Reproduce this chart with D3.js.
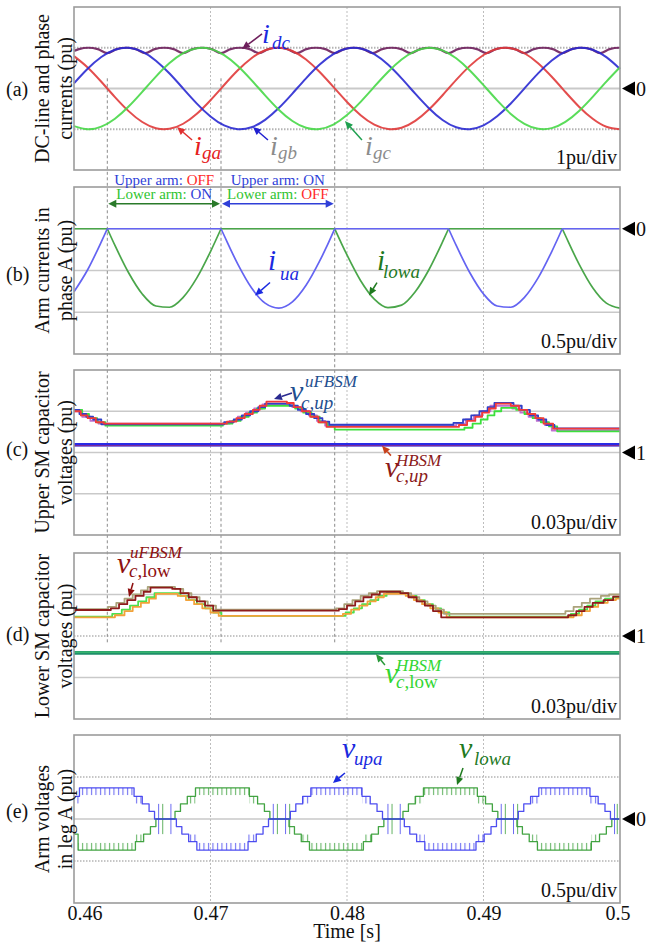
<!DOCTYPE html>
<html>
<head>
<meta charset="utf-8">
<script src="https://cdn.jsdelivr.net/npm/d3@7"></script>
<style>
  body { margin: 0; background: #fff; }
  svg { display: block; }
  text { font-family: "Liberation Serif", "Times New Roman", serif; }
</style>
</head>
<body>
<svg id="chart" width="646" height="946"></svg>
<script>
// ---------------- data ----------------
const xTickValues = [0.46, 0.47, 0.48, 0.49, 0.5];
const xTickLabels = ["0.46", "0.47", "0.48", "0.49", "0.5"];
const panelTitles = [
  ["DC-line and phase", "currents (pu)"],
  ["Arm currents in", "phase A (pu)"],
  ["Upper SM capacitor", "voltages (pu)"],
  ["Lower SM capacitor", "voltages (pu)"],
  ["Arm voltages", "in leg A (pu)"]
];
const panelTags = ["(a)", "(b)", "(c)", "(d)", "(e)"];
const divLabels = ["1pu/div", "0.5pu/div", "0.03pu/div", "0.03pu/div", "0.5pu/div"];
const refValues = [0, 0, 1, 1, 0];
const gridValues = [[-1, 0, 1], [-1, -0.5, 0], [0.97, 1, 1.03], [0.97, 1, 1.03], [-0.5, 0, 0.5]];
const panelDomains = [[-2, 2], [-1.5, 0.5], [0.94, 1.06], [0.94, 1.06], [-1, 1]];

// instants where the phase-A current crosses zero (arm hand-over)
const armSwitchTimes = [0.46244, 0.47077, 0.47910];

// (a) grid phase currents, pu
const phaseTime = [0.460,0.461,0.462,0.463,0.464,0.465,0.466,0.467,0.468,0.469,0.470,0.471,0.472,0.473,0.474,0.475,0.476,0.477,0.478,0.479,0.480,0.481,0.482,0.483,0.484,0.485,0.486,0.487,0.488,0.489,0.490,0.491,0.492,0.493,0.494,0.495,0.496,0.497,0.498,0.499,0.500];
const iga = [0.795,0.517,0.165,-0.210,-0.555,-0.822,-0.974,-0.989,-0.865,-0.620,-0.287,0.085,0.446,0.744,0.938,1.000,0.921,0.713,0.405,0.040,-0.331,-0.655,-0.887,-0.995,-0.963,-0.795,-0.517,-0.165,0.210,0.555,0.822,0.974,0.989,0.865,0.620,0.287,-0.085,-0.446,-0.744,-0.938,-1.000];
const igb = [0.127,0.483,0.772,0.952,0.998,0.904,0.683,0.367,-0.002,-0.370,-0.686,-0.906,-0.998,-0.951,-0.769,-0.480,-0.124,0.250,0.589,0.845,0.983,0.982,0.843,0.587,0.247,-0.127,-0.483,-0.772,-0.952,-0.998,-0.904,-0.683,-0.367,0.002,0.370,0.686,0.906,0.998,0.951,0.769,0.480];
const igc = [-0.923,-1.000,-0.937,-0.742,-0.443,-0.082,0.291,0.623,0.867,0.990,0.973,0.820,0.552,0.206,-0.168,-0.520,-0.798,-0.964,-0.994,-0.885,-0.652,-0.327,0.044,0.405,0.711,0.918,1.000,0.937,0.742,0.443,0.082,-0.291,-0.623,-0.867,-0.990,-0.973,-0.820,-0.552,-0.206,0.168,0.520];

// (a) dc-line current, pu (six-pulse ripple)
const idcTime = [0.46000,0.46036,0.46105,0.46174,0.46244,0.46313,0.46383,0.46452,0.46522,0.46591,0.46661,0.46730,0.46799,0.46869,0.46938,0.47008,0.47077,0.47147,0.47216,0.47286,0.47355,0.47424,0.47494,0.47563,0.47633,0.47702,0.47772,0.47841,0.47910,0.47980,0.48049,0.48119,0.48188,0.48258,0.48327,0.48397,0.48466,0.48535,0.48605,0.48674,0.48744,0.48813,0.48883,0.48952,0.49022,0.49091,0.49160,0.49230,0.49299,0.49369,0.49438,0.49508,0.49577,0.49647,0.49716,0.49786,0.49855,0.49924,0.49994,0.50000];
const idc = [0.923,0.966,1.000,0.966,0.866,0.966,1.000,0.966,0.866,0.966,1.000,0.966,0.866,0.966,1.000,0.966,0.866,0.966,1.000,0.966,0.866,0.966,1.000,0.966,0.866,0.966,1.000,0.966,0.866,0.966,1.000,0.966,0.866,0.966,1.000,0.966,0.866,0.966,1.000,0.966,0.866,0.966,1.000,0.966,0.866,0.966,1.000,0.966,0.866,0.966,1.000,0.966,0.866,0.966,1.000,0.966,0.866,0.966,1.000,1.000];

// (b) arm currents in phase A, pu
const armTime = [0.460,0.461,0.462,0.46244,0.463,0.464,0.465,0.466,0.467,0.468,0.469,0.470,0.47077,0.471,0.472,0.473,0.474,0.475,0.476,0.477,0.478,0.479,0.47910,0.480,0.481,0.482,0.483,0.484,0.485,0.486,0.487,0.48744,0.488,0.489,0.490,0.491,0.492,0.493,0.494,0.495,0.49577,0.496,0.497,0.498,0.499,0.500];
const iua = [-0.755,-0.491,-0.157,0, 0,0,0,0,0,0,0,0, 0, -0.081,-0.424,-0.707,-0.891,-0.950,-0.875,-0.677,-0.385,-0.038, 0, 0,0,0,0,0,0,0,0, 0, -0.200,-0.527,-0.781,-0.925,-0.940,-0.822,-0.589,-0.273, 0, 0,0,0,0,0];
const ilowa = [0,0,0,0, -0.200,-0.527,-0.781,-0.925,-0.940,-0.822,-0.589,-0.273, 0, 0,0,0,0,0,0,0,0,0, 0, -0.314,-0.622,-0.843,-0.945,-0.915,-0.755,-0.491,-0.157, 0, 0,0,0,0,0,0,0,0, 0, -0.081,-0.424,-0.707,-0.891,-0.950];

// (c) upper-arm SM capacitor voltages [time s, pu], stepwise
const capUpRed = [[0.4600,1.030],[0.4605,1.027],[0.4610,1.025],[0.4616,1.022],[0.4622,1.021],[0.4712,1.0225],[0.4719,1.025],[0.4725,1.028],[0.4731,1.031],[0.4736,1.034],[0.4741,1.037],[0.4756,1.036],[0.4761,1.033],[0.4767,1.030],[0.4773,1.026],[0.4779,1.022],[0.4785,1.0186],[0.4882,1.020],[0.4888,1.023],[0.4894,1.026],[0.4899,1.029],[0.4904,1.032],[0.4909,1.0355],[0.4920,1.034],[0.4926,1.031],[0.4932,1.028],[0.4938,1.025],[0.4944,1.021],[0.4951,1.0173],[0.5000,1.0173]];
const capUpBlue = [[0.4600,1.031],[0.4604,1.028],[0.4609,1.026],[0.4614,1.024],[0.4620,1.0205],[0.4710,1.022],[0.4717,1.024],[0.4723,1.027],[0.4729,1.030],[0.4735,1.033],[0.4740,1.0355],[0.4758,1.034],[0.4764,1.031],[0.4770,1.028],[0.4776,1.025],[0.4782,1.0225],[0.4787,1.0202],[0.4878,1.0215],[0.4885,1.024],[0.4891,1.027],[0.4897,1.030],[0.4903,1.033],[0.4908,1.036],[0.4922,1.034],[0.4928,1.031],[0.4934,1.027],[0.4940,1.024],[0.4946,1.020],[0.4952,1.0175],[0.5000,1.0175]];
const capUpGreen = [[0.4600,1.031],[0.4606,1.028],[0.4611,1.025],[0.4617,1.022],[0.4623,1.0195],[0.4709,1.021],[0.4716,1.023],[0.4722,1.026],[0.4728,1.029],[0.4734,1.032],[0.4740,1.034],[0.4762,1.032],[0.4768,1.029],[0.4774,1.026],[0.4780,1.022],[0.4786,1.019],[0.4791,1.0166],[0.4886,1.018],[0.4892,1.021],[0.4898,1.024],[0.4903,1.027],[0.4908,1.030],[0.4913,1.0325],[0.4924,1.031],[0.4930,1.028],[0.4936,1.025],[0.4942,1.022],[0.4948,1.019],[0.4954,1.0154],[0.5000,1.0154]];
const capUpPurple = [[0.4600,1.030],[0.4606,1.026],[0.4612,1.023],[0.4618,1.021],[0.4714,1.023],[0.4720,1.026],[0.4726,1.029],[0.4732,1.032],[0.4738,1.035],[0.4760,1.033],[0.4766,1.030],[0.4772,1.027],[0.4778,1.023],[0.4784,1.0195],[0.4880,1.021],[0.4887,1.024],[0.4893,1.027],[0.4899,1.030],[0.4905,1.034],[0.4921,1.032],[0.4927,1.029],[0.4933,1.026],[0.4939,1.023],[0.4945,1.020],[0.4950,1.016],[0.5000,1.016]];
const capUpHalfBridge = [[0.46,1.0056],[0.50,1.0056]];
const capUpHalfBridge2 = [[0.46,1.0050],[0.50,1.0050]];

// (d) lower-arm SM capacitor voltages [time s, pu], stepwise
const capLowDarkRed = [[0.4600,1.0188],[0.4627,1.020],[0.4633,1.023],[0.4639,1.026],[0.4645,1.029],[0.4651,1.032],[0.4656,1.035],[0.4672,1.034],[0.4678,1.031],[0.4684,1.028],[0.4690,1.025],[0.4696,1.022],[0.4702,1.0183],[0.4794,1.0195],[0.4800,1.022],[0.4806,1.025],[0.4812,1.028],[0.4818,1.030],[0.4824,1.032],[0.4839,1.031],[0.4845,1.028],[0.4851,1.025],[0.4857,1.022],[0.4863,1.018],[0.4869,1.0135],[0.4962,1.015],[0.4968,1.018],[0.4974,1.021],[0.4980,1.024],[0.4988,1.026],[0.4995,1.0285],[0.5000,1.0285]];
const capLowOlive = [[0.4600,1.0195],[0.4625,1.021],[0.4631,1.024],[0.4637,1.027],[0.4643,1.030],[0.4649,1.033],[0.4654,1.0355],[0.4674,1.034],[0.4680,1.031],[0.4686,1.028],[0.4692,1.025],[0.4698,1.022],[0.4704,1.019],[0.4792,1.020],[0.4798,1.023],[0.4804,1.026],[0.4810,1.029],[0.4816,1.031],[0.4822,1.0325],[0.4841,1.031],[0.4847,1.028],[0.4853,1.025],[0.4859,1.022],[0.4865,1.019],[0.4871,1.0160],[0.4960,1.018],[0.4966,1.021],[0.4972,1.024],[0.4978,1.027],[0.4986,1.029],[0.4992,1.030],[0.5000,1.030]];
const capLowOrange = [[0.4600,1.0135],[0.4630,1.015],[0.4637,1.018],[0.4643,1.021],[0.4649,1.024],[0.4655,1.027],[0.4660,1.0305],[0.4676,1.029],[0.4682,1.026],[0.4688,1.023],[0.4694,1.020],[0.4700,1.017],[0.4706,1.0145],[0.4797,1.016],[0.4803,1.019],[0.4809,1.022],[0.4815,1.025],[0.4821,1.028],[0.4827,1.0305],[0.4843,1.029],[0.4849,1.026],[0.4855,1.023],[0.4861,1.020],[0.4867,1.017],[0.4873,1.0135],[0.4966,1.015],[0.4972,1.018],[0.4978,1.021],[0.4984,1.024],[0.4991,1.026],[0.4997,1.027],[0.5000,1.027]];
const capLowGreen = [[0.4600,1.0140],[0.4628,1.016],[0.4635,1.019],[0.4641,1.022],[0.4647,1.025],[0.4653,1.028],[0.4659,1.031],[0.4678,1.029],[0.4684,1.026],[0.4690,1.023],[0.4696,1.020],[0.4702,1.017],[0.4708,1.0145],[0.4799,1.017],[0.4805,1.020],[0.4811,1.023],[0.4817,1.026],[0.4823,1.029],[0.4829,1.031],[0.4845,1.029],[0.4851,1.026],[0.4857,1.023],[0.4863,1.020],[0.4869,1.017],[0.4875,1.0140],[0.4964,1.016],[0.4970,1.019],[0.4976,1.022],[0.4982,1.025],[0.4989,1.027],[0.4995,1.028],[0.5000,1.028]];
const capLowHalfBridge = [[0.46,0.9878],[0.50,0.9878]];
const capLowHalfBridge2 = [[0.46,0.9884],[0.50,0.9884]];

// (e) arm voltages in leg A [time s, pu], multilevel staircase
const vUpa = [[0.4600,0.27],[0.4604,0.37],[0.4644,0.27],[0.4650,0.18],[0.4655,0.09],[0.4659,0],[0.4675,-0.09],[0.4679,-0.18],[0.4684,-0.27],[0.4690,-0.37],[0.47275,-0.27],[0.47335,-0.18],[0.47385,-0.09],[0.47425,0],[0.47585,0.09],[0.47625,0.18],[0.47675,0.27],[0.47735,0.37],[0.4811,0.27],[0.4817,0.18],[0.4822,0.09],[0.4826,0],[0.4842,-0.09],[0.4846,-0.18],[0.4851,-0.27],[0.4857,-0.37],[0.48945,-0.27],[0.49005,-0.18],[0.49055,-0.09],[0.49095,0],[0.49255,0.09],[0.49295,0.18],[0.49345,0.27],[0.49405,0.37],[0.4978,0.27],[0.4984,0.18],[0.4989,0.09],[0.4993,0],[0.5000,0]];
const vLowa = [[0.4600,-0.18],[0.4603,-0.37],[0.4645,-0.27],[0.4651,-0.18],[0.4656,-0.09],[0.4660,0],[0.4674,0.09],[0.4678,0.18],[0.4683,0.27],[0.4689,0.37],[0.47285,0.27],[0.47345,0.18],[0.47395,0.09],[0.47435,0],[0.47575,-0.09],[0.47615,-0.18],[0.47665,-0.27],[0.47725,-0.37],[0.4812,-0.27],[0.4818,-0.18],[0.4823,-0.09],[0.4827,0],[0.4841,0.09],[0.4845,0.18],[0.4850,0.27],[0.4856,0.37],[0.48955,0.27],[0.49015,0.18],[0.49065,0.09],[0.49105,0],[0.49245,-0.09],[0.49285,-0.18],[0.49335,-0.27],[0.49395,-0.37],[0.4979,-0.27],[0.4985,-0.18],[0.4990,-0.09],[0.4994,0],[0.5000,0]];
// short switching transients around the zero crossings
const vUpaSpikes = [0.4662,0.4671,0.4746,0.4755,0.4830,0.4839,0.4913,0.4922,0.4996];
const vLowaSpikes = [0.4665,0.4749,0.4758,0.4833,0.4916,0.4925,0.4998];

// ---------------- layout ----------------
const serif = '"Liberation Serif","Times New Roman",serif';
const frames = [
  { top: 7,   bottom: 170, tagBase: 96 },
  { top: 187, bottom: 354, tagBase: 281 },
  { top: 370, bottom: 535, tagBase: 456 },
  { top: 553, bottom: 719, tagBase: 641 },
  { top: 735, bottom: 903, tagBase: 818 }
];
const svg = d3.select("#chart");
const x = d3.scaleLinear().domain([0.46, 0.5]).range([74, 620]);
const ys = frames.map((f, i) => d3.scaleLinear().domain(panelDomains[i]).range([f.bottom, f.top]));

// switching comb: thin teeth hanging from each outer voltage level
const defs = svg.append("defs");
[["combBlue", "#3b3bee"], ["combGreen", "#2f9a2f"]].forEach(([id, c]) => {
  const p = defs.append("pattern").attr("id", id).attr("patternUnits", "userSpaceOnUse")
    .attr("width", 4.5).attr("height", 10);
  p.append("rect").attr("x", 1).attr("y", 0).attr("width", 1).attr("height", 10).attr("fill", c);
});

const gridLayer = svg.append("g");
const markLayer = svg.append("g");
const traceLayer = svg.append("g");
const frameLayer = svg.append("g");
const textLayer = svg.append("g");

// ---------- grid, frames, panel texts ----------
frames.forEach((f, i) => {
  const y = ys[i];
  gridValues[i].forEach(v => {
    const dotted = (i === 0 && v !== 0) || (i === 3 && v === 1) || (i === 4 && v !== 0);
    gridLayer.append("line")
      .attr("x1", x.range()[0]).attr("x2", x.range()[1])
      .attr("y1", y(v)).attr("y2", y(v))
      .attr("stroke", dotted ? "#b4b4b4" : "#c9c9c9")
      .attr("stroke-width", i === 0 ? 2.2 : 1.6)
      .attr("stroke-dasharray", dotted ? "1.5,1.5" : null);
  });
  xTickValues.slice(1, -1).forEach(t => {
    gridLayer.append("line")
      .attr("x1", x(t)).attr("x2", x(t)).attr("y1", f.top).attr("y2", f.bottom)
      .attr("stroke", "#bdbdbd").attr("stroke-width", 1).attr("stroke-dasharray", "2,2");
  });
  frameLayer.append("rect")
    .attr("x", x.range()[0]).attr("y", f.top)
    .attr("width", x.range()[1] - x.range()[0]).attr("height", f.bottom - f.top)
    .attr("fill", "none").attr("stroke", "#9c9c9c").attr("stroke-width", 1.6);

  // reference marker on the right edge
  const ry = y(refValues[i]);
  textLayer.append("path")
    .attr("d", `M622,${ry}L635,${ry - 7}L635,${ry + 7}Z`).attr("fill", "#000");
  textLayer.append("text").attr("x", 636).attr("y", ry + 7)
    .attr("font-size", 20).attr("fill", "#111").text(String(refValues[i]));

  // amount per division
  textLayer.append("text").attr("x", 617).attr("y", f.bottom - 6)
    .attr("text-anchor", "end").attr("font-size", 20).attr("fill", "#111").text(divLabels[i]);

  // panel tag and rotated two-line title
  textLayer.append("text").attr("x", 6).attr("y", f.tagBase)
    .attr("font-size", 20).attr("fill", "#111").text(panelTags[i]);
  const cy = (f.top + f.bottom) / 2;
  [49, 72].forEach((bx, k) => {
    textLayer.append("text")
      .attr("transform", `translate(${bx},${cy}) rotate(-90)`)
      .attr("text-anchor", "middle").attr("font-size", 20).attr("fill", "#111")
      .text(panelTitles[i][k]);
  });
});

// arm hand-over markers running through panels (a)-(d)
armSwitchTimes.forEach(t => {
  markLayer.append("line")
    .attr("x1", x(t)).attr("x2", x(t))
    .attr("y1", ys[0](0.25)).attr("y2", ys[3](0.995))
    .attr("stroke", "#8a8a8a").attr("stroke-width", 1).attr("stroke-dasharray", "3,2.5");
});

// ---------- traces ----------
function drawSeries(data, yScale, color, width, curve, opacity) {
  traceLayer.append("path")
    .datum(data)
    .attr("d", d3.line().x(d => x(d[0])).y(d => yScale(d[1])).curve(curve))
    .attr("fill", "none").attr("stroke", color).attr("stroke-width", width)
    .attr("stroke-opacity", opacity == null ? 1 : opacity)
    .attr("stroke-linejoin", "round");
}
const zip = (t, v) => t.map((d, i) => [d, v[i]]);

// (a)
drawSeries(zip(idcTime, idc), ys[0], "#6e1f5c", 2.2, d3.curveMonotoneX, 0.9);
drawSeries(zip(phaseTime, iga), ys[0], "#e03a3a", 2, d3.curveNatural, 0.9);
drawSeries(zip(phaseTime, igb), ys[0], "#2a2ad2", 2, d3.curveNatural, 0.9);
drawSeries(zip(phaseTime, igc), ys[0], "#48d848", 2, d3.curveNatural, 0.9);

// (b) split each arm current into conducting half-waves and idle stretches
function splitRuns(pts) {
  const out = []; let cur = [pts[0]];
  for (let i = 1; i < pts.length; i++) {
    const p = pts[i];
    cur.push(p);
    if (p[1] === 0 && i < pts.length - 1) {
      const prevZero = pts[i - 1][1] === 0, nextZero = pts[i + 1][1] === 0;
      if (prevZero !== nextZero) { out.push(cur); cur = [p]; }
    }
  }
  out.push(cur);
  return out;
}
splitRuns(zip(armTime, ilowa)).forEach(r => drawSeries(r, ys[1], "#4aa64a", 1.7, d3.curveMonotoneX));
splitRuns(zip(armTime, iua)).forEach(r => drawSeries(r, ys[1], "#6464f2", 1.7, d3.curveMonotoneX));

// (c)
drawSeries(capUpHalfBridge, ys[2], "#2a2ae6", 3.6, d3.curveLinear);
drawSeries(capUpHalfBridge2, ys[2], "#7a2a9a", 1.4, d3.curveLinear);
drawSeries(capUpPurple, ys[2], "#c070d0", 1.8, d3.curveStepAfter);
drawSeries(capUpGreen, ys[2], "#3ce03c", 1.8, d3.curveStepAfter);
drawSeries(capUpBlue, ys[2], "#3040c8", 1.8, d3.curveStepAfter);
drawSeries(capUpRed, ys[2], "#f03a3a", 1.8, d3.curveStepAfter);

// (d)
drawSeries(capLowHalfBridge, ys[3], "#1f8f6a", 3.6, d3.curveLinear);
drawSeries(capLowHalfBridge2, ys[3], "#3cc070", 1.2, d3.curveLinear);
drawSeries(capLowGreen, ys[3], "#4ee04e", 1.8, d3.curveStepAfter);
drawSeries(capLowOrange, ys[3], "#f2a23a", 1.8, d3.curveStepAfter);
drawSeries(capLowOlive, ys[3], "#aaa27a", 1.8, d3.curveStepAfter);
drawSeries(capLowDarkRed, ys[3], "#8e1b1b", 1.8, d3.curveStepAfter);

// (e) staircase; the two outer levels carry the switching comb
function drawArmVoltage(data, spikes, color, pattern) {
  const y = ys[4];
  spikes.forEach(t => {
    traceLayer.append("line").attr("x1", x(t)).attr("x2", x(t))
      .attr("y1", y(-0.18)).attr("y2", y(0.18))
      .attr("stroke", color).attr("stroke-width", 1).attr("stroke-opacity", 0.75);
  });
  for (let i = 0; i < data.length - 1; i++) {
    const v = data[i][1];
    if (Math.abs(v) < 0.25) continue;
    const inner = v - Math.sign(v) * 0.085;
    traceLayer.append("rect")
      .attr("x", x(data[i][0])).attr("width", x(data[i + 1][0]) - x(data[i][0]))
      .attr("y", Math.min(y(v), y(inner))).attr("height", Math.abs(y(v) - y(inner)))
      .attr("fill", `url(#${pattern})`).attr("opacity", 0.8);
  }
  drawSeries(data, y, color, 1.3, d3.curveStepAfter, 0.9);
}
drawArmVoltage(vLowa, vLowaSpikes, "#2f9a2f", "combGreen");
drawArmVoltage(vUpa, vUpaSpikes, "#3b3bee", "combBlue");

// ---------- annotations ----------
function arrow(x1, y1, x2, y2, color, head) {
  const a = Math.atan2(y2 - y1, x2 - x1), L = head || 8, w = 3.6;
  const bx = x2 - L * Math.cos(a), by = y2 - L * Math.sin(a);
  textLayer.append("line").attr("x1", x1).attr("y1", y1).attr("x2", bx).attr("y2", by)
    .attr("stroke", color).attr("stroke-width", 1.5);
  textLayer.append("path")
    .attr("d", `M${x2},${y2}L${bx + w * Math.sin(a)},${by - w * Math.cos(a)}L${bx - w * Math.sin(a)},${by + w * Math.cos(a)}Z`)
    .attr("fill", color);
}
function mathLabel(x0, y0, s) {
  textLayer.append("text").attr("x", x0).attr("y", y0)
    .attr("font-size", s.size).attr("font-style", "italic").attr("fill", s.color).text(s.base);
  [["sub", 19], ["sup", 17]].forEach(([key, fs]) => {
    const part = s[key];
    if (!part) return;
    const t = textLayer.append("text").attr("x", x0 + part.dx).attr("y", y0 + part.dy)
      .attr("font-size", fs).attr("fill", s.color);
    part.parts.forEach(([str, it]) => t.append("tspan").attr("font-style", it ? "italic" : "normal").text(str));
  });
}
const annotations = [
  { p: 0, t: 0.47231, v: 0.97,  tail: [20, -15], at: [20, -6], base: "i", size: 28, color: "#1a2ae0", arrow: "#6e1f5c", sub: { dx: 10, dy: 6, parts: [["dc", 1]] } },
  { p: 0, t: 0.46755, v: -0.945, tail: [15, 13], at: [17, 28], base: "i", size: 28, color: "#e52020", arrow: "#e03030", sub: { dx: 8, dy: 4, parts: [["ga", 1]] } },
  { p: 0, t: 0.47311, v: -0.945, tail: [15, 13], at: [17, 28], base: "i", size: 28, color: "#8c8c8c", arrow: "#2020d0", sub: { dx: 8, dy: 4, parts: [["gb", 1]] } },
  { p: 0, t: 0.47985, v: -0.80,  tail: [17, 19], at: [20, 34], base: "i", size: 28, color: "#8c8c8c", arrow: "#20a050", sub: { dx: 8, dy: 4, parts: [["gc", 1]] } },
  { p: 1, t: 0.47326, v: -0.80,  tail: [15, -13], at: [13, -26], base: "i", size: 29, color: "#1a2ae0", arrow: "#1a2ae0", sub: { dx: 12, dy: 10, parts: [["ua", 1]] } },
  { p: 1, t: 0.48161, v: -0.80,  tail: [8, -13], at: [8, -26], base: "i", size: 29, color: "#1f7a1f", arrow: "#1f7a1f", sub: { dx: 6, dy: 8, parts: [["lowa", 1]] } },
  { p: 2, t: 0.47465, v: 1.0389, tail: [18, -6], at: [16, 2], base: "v", size: 30, color: "#1f4f8f", arrow: "#2a2a90", sup: { dx: 15, dy: -14, parts: [["uFBSM", 1]] }, sub: { dx: 11, dy: 8, parts: [["c,up", 1]] } },
  { p: 2, t: 0.48256, v: 1.005,  tail: [9, 10], at: [3, 31], base: "v", size: 30, color: "#8b1a1a", arrow: "#c8401a", sup: { dx: 11, dy: -11, parts: [["HBSM", 1]] }, sub: { dx: 11, dy: 5, parts: [["c,up", 1]] } },
  { p: 3, t: 0.46403, v: 1.0282, tail: [4, -14], at: [-12, -24], base: "v", size: 30, color: "#8e1010", arrow: "#8e1010", sup: { dx: 13, dy: -15, parts: [["uFBSM", 1]] }, sub: { dx: 12, dy: 4, parts: [["c", 1], [",low", 0]] } },
  { p: 3, t: 0.48212, v: 0.987,  tail: [9, 11], at: [9, 29], base: "v", size: 30, color: "#33d633", arrow: "#2a9a3a", sup: { dx: 11, dy: -12, parts: [["HBSM", 1]] }, sub: { dx: 11, dy: 5, parts: [["c", 1], [",low", 0]] } },
  { p: 4, t: 0.47897, v: 0.4286, tail: [12, -10], at: [9, -25], base: "v", size: 30, color: "#1a2ae0", arrow: "#1a2ae0", sub: { dx: 12, dy: 7, parts: [["upa", 1]] } },
  { p: 4, t: 0.48806, v: 0.405,  tail: [6, -17], at: [2, -27], base: "v", size: 30, color: "#1f7a1f", arrow: "#1f7a1f", sub: { dx: 15, dy: 7, parts: [["lowa", 1]] } }
];
annotations.forEach(a => {
  const hx = x(a.t), hy = ys[a.p](a.v);
  arrow(hx + a.tail[0], hy + a.tail[1], hx, hy, a.arrow);
  mathLabel(hx + a.at[0], hy + a.at[1], a);
});

// conduction intervals above panel (b)
const intervalText = [
  [[["Upper arm: ", "#2f3fd8"], ["OFF", "#ff2a2a"]], [["Lower arm: ", "#2fc42f"], ["ON", "#2f3fd8"]]],
  [[["Upper arm: ", "#2f3fd8"], ["ON", "#2f3fd8"]], [["Lower arm: ", "#2fc42f"], ["OFF", "#ff2a2a"]]]
];
const intervalColors = ["#2a7a2a", "#2f3fd8"];
[0, 1].forEach(k => {
  const x1 = x(armSwitchTimes[k]), x2 = x(armSwitchTimes[k + 1]), cx = (x1 + x2) / 2;
  const ay = ys[1](0.30);
  const c = intervalColors[k];
  textLayer.append("line").attr("x1", x1 + 7).attr("x2", x2 - 7).attr("y1", ay).attr("y2", ay)
    .attr("stroke", c).attr("stroke-width", 1.5);
  textLayer.append("path").attr("d", `M${x1 + 1},${ay}L${x1 + 9},${ay - 4}L${x1 + 9},${ay + 4}Z`).attr("fill", c);
  textLayer.append("path").attr("d", `M${x2 - 1},${ay}L${x2 - 9},${ay - 4}L${x2 - 9},${ay + 4}Z`).attr("fill", c);
  [frames[1].top - 2, frames[1].top + 12].forEach((by, r) => {
    const t = textLayer.append("text").attr("x", cx).attr("y", by)
      .attr("text-anchor", "middle").attr("font-size", 15);
    intervalText[k][r].forEach(([s, col]) => t.append("tspan").attr("fill", col).text(s));
  });
});

// ---------- time axis ----------
const axis = d3.axisBottom(x).tickValues(xTickValues)
  .tickFormat((d, i) => xTickLabels[i]).tickSize(0).tickPadding(3);
const ax = svg.append("g").attr("transform", `translate(0,${frames[4].bottom})`).call(axis);
ax.select(".domain").remove();
ax.selectAll("text").attr("font-size", 20).attr("font-family", serif).attr("fill", "#111");
const tickTexts = ax.selectAll(".tick text").nodes();
d3.select(tickTexts[0]).attr("text-anchor", "start").attr("dx", -7);
d3.select(tickTexts[tickTexts.length - 1]).attr("text-anchor", "end").attr("dx", 10);
svg.append("text").attr("x", x(0.48)).attr("y", 938).attr("text-anchor", "middle")
  .attr("font-size", 20).attr("fill", "#111").text("Time [s]");
</script>
</body>
</html>
